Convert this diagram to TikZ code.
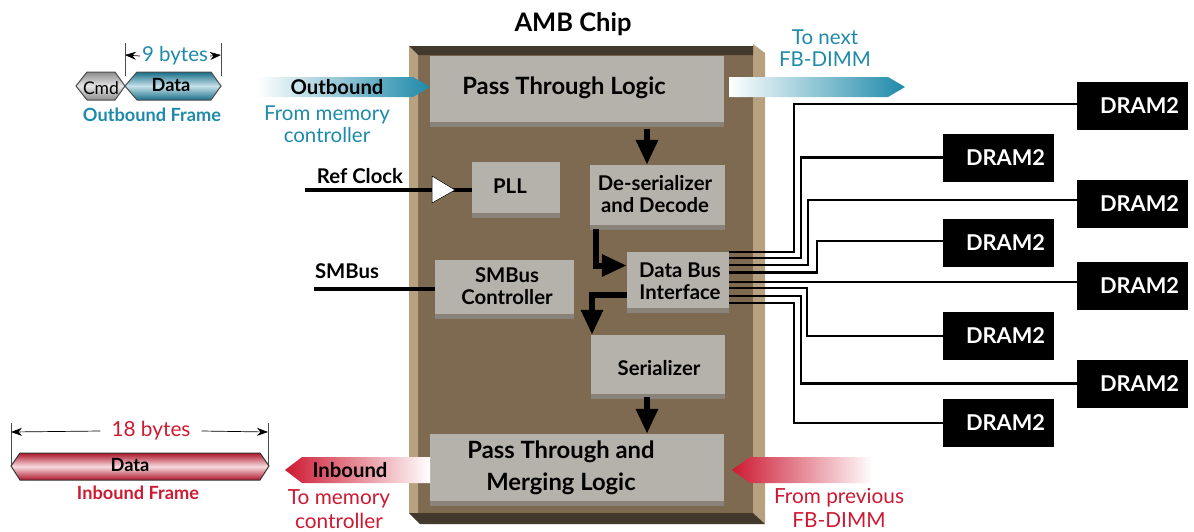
\documentclass[tikz,border=0pt]{standalone}
\usepackage{fontspec}
\setmainfont{Lato}
\usetikzlibrary{arrows.meta,shadows}
\definecolor{Teal}{RGB}{30,138,170}
\definecolor{Crimson}{RGB}{205,25,50}
\definecolor{Board}{RGB}{126,106,80}
\definecolor{Rim}{RGB}{184,161,128}
\definecolor{Edge}{RGB}{66,57,44}
\definecolor{Panel}{RGB}{181,178,171}
\definecolor{PanelShadow}{RGB}{138,131,122}

\begin{document}
\begin{tikzpicture}
[
x=1pt,y=-1pt,
Block/.style={rectangle,fill=Panel,inner sep=0pt,drop shadow={shadow xshift=0pt,shadow yshift=-4.5pt,fill=PanelShadow,opacity=1}},
Dram/.style={rectangle,fill=black,text=white,font=\fontsize{21.8}{25}\selectfont\bfseries,minimum width=111pt,minimum height=48pt,text width=93pt,align=right,inner xsep=9pt,inner ysep=0pt},
Title/.style={font=\fontsize{23.8}{32}\selectfont\bfseries,align=center,inner sep=0pt},
Small/.style={font=\fontsize{20.3}{22}\selectfont\bfseries,align=center,inner sep=0pt},
Caption/.style={font=\fontsize{18.2}{22}\selectfont\bfseries,inner sep=0pt},
TealText/.style={text=Teal,font=\fontsize{20.5}{22}\selectfont,align=center,inner sep=0pt},
RedText/.style={text=Crimson,font=\fontsize{20.8}{24}\selectfont,align=center,inner sep=0pt},
Wire/.style={draw=black,line width=2.4pt,line join=miter},
Feed/.style={draw=black,line width=6pt,-{Triangle[width=21pt,length=25pt]}},
Dim/.style={draw=black,line width=0.7pt,-{Stealth[width=8pt,length=11pt]}},
Tick/.style={draw=black!70,line width=0.6pt},
TealFlow/.style={left color=white,right color=Teal},
RedFlow/.style={left color=Crimson,right color=white},
TealFrame/.style={draw=black!70,line width=1pt,top color=Teal!80!black,bottom color=Teal!80!black,middle color=Teal!25},
GrayFrame/.style={draw=black!70,line width=1pt,top color=black!45,bottom color=black!45,middle color=black!10},
RedFrame/.style={draw=black!80,line width=1pt,top color=Crimson!85!black,bottom color=Crimson!85!black,middle color=Crimson!15}
]
\useasboundingbox (0,0) rectangle (1194,531);

% chip body
\fill[Board] (418,55) rectangle (753,513);
\fill[Rim] (409,46)--(418,55)--(418,513)--(409,513)--cycle;
\fill[Rim] (753,44)--(765,53)--(765,524)--(753,513)--cycle;
\fill[Edge] (409,46)--(753,46)--(753,55)--(418,55)--cycle;
\fill[Edge] (409,513)--(753,513)--(765,524)--(420,524)--cycle;
\node[Title,font=\fontsize{25.5}{32}\selectfont\bfseries] (Chip) at (573,24) {AMB Chip};

% blocks
\node[Block,minimum width=294pt,minimum height=66pt] (Pass) at (577,89) {};
\node[Block,minimum width=88pt,minimum height=51pt] (PLL) at (516,187.5) {};
\node[Block,minimum width=135pt,minimum height=60pt] (Deser) at (657.5,195) {};
\node[Block,minimum width=102pt,minimum height=56pt] (Bus) at (678,280) {};
\node[Block,minimum width=139pt,minimum height=54pt] (SMB) at (504.5,287) {};
\node[Block,minimum width=134pt,minimum height=59pt] (Ser) at (658,364.5) {};
\node[Block,minimum width=294pt,minimum height=67pt] (Merge) at (577,467.5) {};

\node[Title] (PassText) at (564,88) {Pass Through Logic};
\node[Small] (PLLText) at (510,186) {PLL};
\node[Small] (DeserText) at (655,194) {De-serializer\\and Decode};
\node[Small] (BusText) at (680,281) {Data Bus\\Interface};
\node[Small] (SMBText) at (507,286) {SMBus\\Controller};
\node[Small] (SerText) at (659,368) {Serializer};
\node[Title] (MergeText) at (561,468) {Pass Through and\\Merging Logic};

% DRAM devices
\node[Dram] (DramA) at (1132.5,106) {DRAM2};
\node[Dram] (DramB) at (998.5,157.5) {DRAM2};
\node[Dram] (DramC) at (1132.5,204) {DRAM2};
\node[Dram] (DramD) at (998.5,242.5) {DRAM2};
\node[Dram] (DramE) at (1132.5,286) {DRAM2};
\node[Dram] (DramF) at (998.5,336) {DRAM2};
\node[Dram] (DramG) at (1132.5,383.5) {DRAM2};
\node[Dram] (DramH) at (998.5,423) {DRAM2};

% bus wires
\draw[Wire] ([yshift=28pt]Bus.east) -| ([xshift=-283pt,yshift=2pt]DramA.west) -- ([yshift=2pt]DramA.west);
\draw[Wire] ([yshift=22pt]Bus.east) -| ([xshift=-142pt]DramB.west) -- (DramB.west);
\draw[Wire] ([yshift=15pt]Bus.east) -| ([xshift=-269pt,yshift=4pt]DramC.west) -- ([yshift=4pt]DramC.west);
\draw[Wire] ([yshift=7.5pt]Bus.east) -| ([xshift=-126pt,yshift=1.5pt]DramD.west) -- ([yshift=1.5pt]DramD.west);
\draw[Wire] ([yshift=-2pt]Bus.east) -- ([yshift=4pt]DramE.west);
\draw[Wire] ([yshift=-8pt]Bus.east) -| ([xshift=-136pt]DramF.west) -- (DramF.west);
\draw[Wire] ([yshift=-16pt]Bus.east) -| ([xshift=-276pt]DramG.west) -- (DramG.west);
\draw[Wire] ([yshift=-23pt]Bus.east) -| ([xshift=-149pt]DramH.west) -- (DramH.west);

% data path
\draw[Feed] ([xshift=70pt,yshift=-7pt]Pass.south) -- ([xshift=-10.5pt]Deser.north);
\draw[Feed] ([xshift=-61.5pt,yshift=-4pt]Deser.south) |- ([yshift=14.5pt]Bus.west);
\draw[Feed] ([yshift=-15pt]Bus.west) -| ([xshift=-66pt]Ser.north);
\draw[Feed] ([xshift=-11pt,yshift=-3pt]Ser.south) -- ([xshift=70pt]Merge.north);

% side signals
\coordinate (RefIn) at (305,190);
\coordinate (BufOut) at (455,190);
\coordinate (SMBIn) at (314,289);
\draw[line width=3.5pt] (RefIn) -- (BufOut);
\draw[line width=3.5pt] (BufOut) -- ([yshift=-2.5pt]PLL.west);
\draw[draw=black,fill=white,line width=0.5pt] (432,176)--(BufOut)--(432,203)--cycle;
\draw[line width=4pt] (SMBIn) -- ([yshift=-2pt]SMB.west);
\node[Small] (RefText) at (360,176) {Ref Clock};
\node[Small] (SMBusText) at (347,271) {SMBus};

% flow arrows
\shade[TealFlow] (257,77)--(413,77)--(430,87)--(413,97)--(257,97)--cycle;
\shade[TealFlow] (729,77)--(888,77)--(905,87)--(888,97)--(729,97)--cycle;
\shade[RedFlow] (285,470)--(302,457)--(430,457)--(430,483)--(302,483)--cycle;
\shade[RedFlow] (732,470)--(750,457)--(873,457)--(873,483)--(750,483)--cycle;
\node[Small] (OutText) at (337,87) {Outbound};
\node[Small] (InText) at (350,470) {Inbound};
\node[TealText] (FromMem) at (327,124) {From memory\\controller};
\node[TealText] (ToNext) at (825,48) {To next\\FB-DIMM};
\node[RedText] (ToMem) at (339,509) {To memory\\controller};
\node[RedText] (FromPrev) at (839,507.5) {From previous\\FB-DIMM};

% outbound frame
\shadedraw[GrayFrame] (76,86)--(87,72)--(115,72)--(125,86)--(115,100)--(87,100)--cycle;
\node[Small,font=\fontsize{17.5}{20}\selectfont] (CmdText) at (101,88) {Cmd};
\shadedraw[TealFrame] (125,86)--(137,72)--(211,72)--(221,86)--(211,100)--(137,100)--cycle;
\node[Caption] (OutData) at (171,85) {Data};
\node[Caption,text=Teal] (OutFrame) at (152,115) {Outbound Frame};
\coordinate (ShortLeft) at (125,55);
\coordinate (ShortRight) at (221,55);
\node[TealText,inner xsep=2pt] (ShortBytes) at (175,56) {9 bytes};
\draw[Tick] (125,43) -- (125,76);
\draw[Tick] (221,43) -- (221,76);
\draw[Dim] (ShortBytes.west) -- (ShortLeft);
\draw[Dim] (ShortBytes.east) -- (ShortRight);

% inbound frame
\shadedraw[RedFrame] (11,466)--(20,453)--(260,453)--(269,466)--(260,480)--(20,480)--cycle;
\node[Caption] (InData) at (130,465) {Data};
\node[Caption,text=Crimson] (InFrame) at (138,493) {Inbound Frame};
\coordinate (LongLeft) at (11,432);
\coordinate (LongRight) at (268,432);
\node[RedText,inner xsep=11pt] (LongBytes) at (151,431) {18 bytes};
\draw[Tick] (11,423) -- (11,465);
\draw[Tick] (268,423) -- (268,465);
\draw[Dim] (LongBytes.west) -- (LongLeft);
\draw[Dim] (LongBytes.east) -- (LongRight);
\end{tikzpicture}
\end{document}
